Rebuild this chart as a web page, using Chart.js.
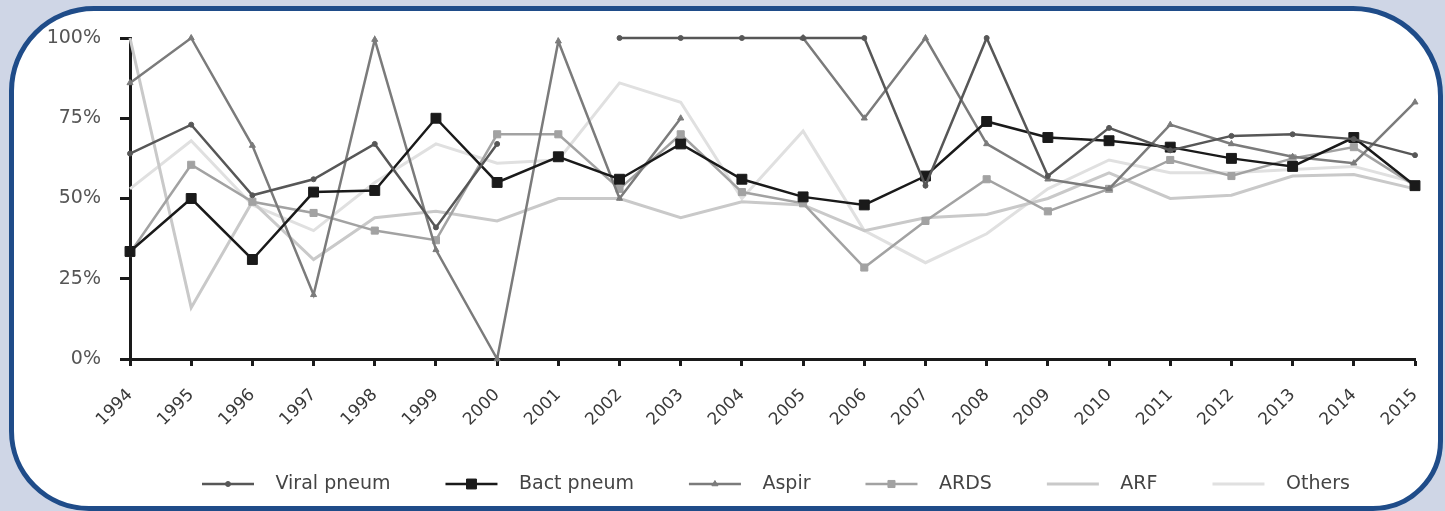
<!DOCTYPE html>
<html>
<head>
<meta charset="utf-8">
<script src="https://cdn.jsdelivr.net/npm/chart.js@4.4.1/dist/chart.umd.min.js"></script>
<style>
  body { margin: 0; width: 1445px; height: 511px; overflow: hidden; position: relative; background: #cfd6e6; }
  #box { position: absolute; left: 9px; top: 6px; width: 1424px; height: 495px; background: #fff;
         border: 5px solid #1f4c89; border-radius: 85px 90px 70px 80px; }
  #mychart { position: absolute; left: 0; top: 0; }
</style>
</head>
<body>
<div id="box"></div>
<canvas id="mychart" width="1445" height="511"></canvas>
<script>
var years = ['1994', '1995', '1996', '1997', '1998', '1999', '2000', '2001', '2002', '2003', '2004',
             '2005', '2006', '2007', '2008', '2009', '2010', '2011', '2012', '2013', '2014', '2015'];
var yTicks = [0, 25, 50, 75, 100];

var viralPneum = [64, 73, 51, 56, 67, 41, 67, null, 100, 100, 100, 100, 100, 54, 100, 57, 72, 65, 69.5, 70, 68.5, 63.5];
var bactPneum = [33.5, 50, 31, 52, 52.5, 75, 55, 63, 56, 67, 56, 50.5, 48, 57, 74, 69, 68, 66, 62.5, 60, 69, 54];
var aspir = [86, 100, 66.5, 20, 99.5, 34, 0, 99, 50, 75, null, 100, 75, 100, 67, 56, 53, 73, 67, 63, 61, 80];
var ards = [33, 60.5, 49, 45.5, 40, 37, 70, 70, 53, 70, 52, 48.5, 28.5, 43, 56, 46, 53, 62, 57, 62.5, 66, 54];
var arf = [100, 16, 49, 31, 44, 46, 43, 50, 50, 44, 49, 48, 40, 44, 45, 50, 58, 50, 51, 57, 57.5, 53];
var others = [53, 68, 48, 40, 55, 67, 61, 62, 86, 80, 50, 71, 40, 30, 39, 53, 62, 58, 58, 59, 60, 55];

function series(label, data, color, width, style, radius) {
    return {
        label: label,
        data: data,
        borderColor: color,
        backgroundColor: color,
        pointBackgroundColor: color,
        pointBorderColor: color,
        borderWidth: width,
        pointStyle: style,
        pointRadius: radius,
        pointBorderWidth: 1,
        tension: 0,
        spanGaps: false,
        clip: false
    };
}

// draws the little line + marker in front of each legend text, moves the legend right
// and lets the rotated year labels run below the x axis box
var legendMarks = {
    id: 'legendMarks',
    afterLayout: function(chart) {
        chart.legend.left += 147;
        chart.legend.right += 147;
        chart.scales.x.bottom = chart.height;
    },
    afterDraw: function(chart) {
        var ctx = chart.ctx;
        var boxes = chart.legend.legendHitBoxes || [];
        boxes.forEach(function(b, i) {
            var ds = chart.data.datasets[i];
            var y = b.top + b.height / 2;
            ctx.save();
            ctx.strokeStyle = ds.borderColor;
            ctx.lineWidth = ds.borderWidth;
            ctx.beginPath();
            ctx.moveTo(b.left, y);
            ctx.lineTo(b.left + 52, y);
            ctx.stroke();
            if (ds.pointRadius > 0) {
                ctx.fillStyle = ds.pointBackgroundColor;
                ctx.strokeStyle = ds.pointBorderColor;
                ctx.lineWidth = 1;
                Chart.helpers.drawPoint(ctx, {pointStyle: ds.pointStyle, radius: ds.pointRadius, rotation: 0, borderWidth: 1}, b.left + 26, y);
            }
            ctx.restore();
        });
    }
};

var config = {
    type: 'line',
    data: {
        labels: years,
        datasets: [
            series('Viral pneum', viralPneum, '#575757', 2.5, 'circle', 2.5),
            series('Bact pneum', bactPneum, '#1a1a1a', 2.5, 'rect', 7),
            series('Aspir', aspir, '#7b7b7b', 2.5, 'triangle', 3.5),
            series('ARDS', ards, '#a2a2a2', 2.5, 'rect', 5),
            series('ARF', arf, '#c9c9c9', 3, 'circle', 0),
            series('Others', others, '#e0e0e0', 3, 'circle', 0)
        ]
    },
    options: {
        responsive: false,
        animation: false,
        devicePixelRatio: 1,
        layout: { padding: { left: 0, right: 30, top: 38, bottom: 7.5 } },
        scales: {
            x: {
                type: 'category',
                offset: false,
                afterFit: function(scale) {
                    scale.height = 60.5;
                    scale.paddingLeft = 0;
                    scale.paddingRight = 0;
                },
                grid: { display: true, drawOnChartArea: false, drawTicks: true, tickLength: 7, tickWidth: 3, tickColor: '#1a1a1a' },
                border: { display: true, color: '#1a1a1a', width: 3 },
                ticks: {
                    autoSkip: false, maxRotation: 45, minRotation: 45, padding: 19,
                    color: '#3a3a3a', font: { family: 'DejaVu Sans', size: 17 }
                }
            },
            y: {
                min: 0,
                max: 100,
                afterFit: function(scale) { scale.width = 130; },
                afterBuildTicks: function(scale) {
                    scale.ticks = yTicks.map(function(v) { return { value: v }; });
                },
                grid: { display: true, drawOnChartArea: false, drawTicks: true, tickLength: 10, tickWidth: 3, tickColor: '#1a1a1a' },
                border: { display: true, color: '#1a1a1a', width: 3 },
                ticks: {
                    padding: 19, color: '#555', font: { family: 'DejaVu Sans', size: 19 },
                    callback: function(v) { return v + '%'; }
                }
            }
        },
        plugins: {
            tooltip: { enabled: false },
            legend: {
                position: 'bottom',
                align: 'start',
                labels: {
                    boxWidth: 64,
                    boxHeight: 2,
                    padding: 55,
                    color: '#444',
                    font: { family: 'DejaVu Sans', size: 19 },
                    generateLabels: function(chart) {
                        var items = Chart.defaults.plugins.legend.labels.generateLabels(chart);
                        items.forEach(function(it) {
                            it.fillStyle = 'rgba(0,0,0,0)';
                            it.strokeStyle = 'rgba(0,0,0,0)';
                            it.lineWidth = 0;
                        });
                        return items;
                    }
                }
            }
        }
    },
    plugins: [legendMarks]
};

var ctx = document.getElementById('mychart').getContext('2d');
window.myLine = new Chart(ctx, config);
</script>
</body>
</html>
